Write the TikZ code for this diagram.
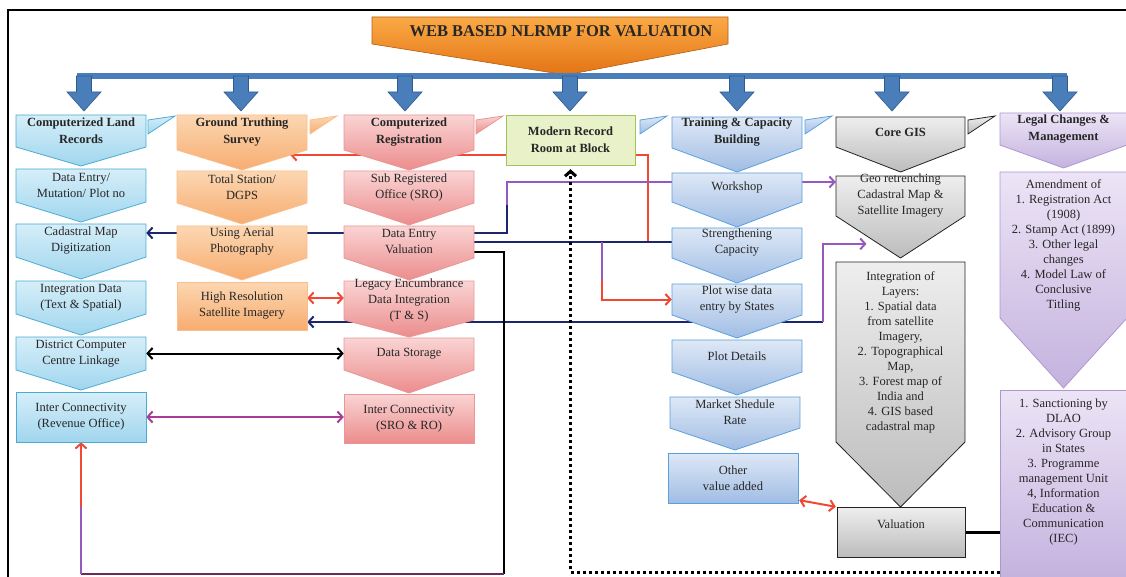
\documentclass[tikz,border=0pt]{standalone}
\usepackage{fontspec}
\setmainfont{Liberation Serif}
\usetikzlibrary{arrows.meta,calc}

\definecolor{landtop}{RGB}{214,238,249}
\definecolor{landbot}{RGB}{160,214,238}
\definecolor{landedge}{RGB}{75,172,210}
\definecolor{survtop}{RGB}{252,215,178}
\definecolor{survbot}{RGB}{247,172,112}
\definecolor{survedge}{RGB}{250,190,140}
\definecolor{regtop}{RGB}{250,212,212}
\definecolor{regbot}{RGB}{236,140,140}
\definecolor{regedge}{RGB}{232,150,150}
\definecolor{roomfill}{RGB}{232,241,200}
\definecolor{roomedge}{RGB}{160,195,90}
\definecolor{traintop}{RGB}{222,232,246}
\definecolor{trainbot}{RGB}{160,189,228}
\definecolor{trainedge}{RGB}{90,160,220}
\definecolor{gistop}{RGB}{238,238,238}
\definecolor{gisbot}{RGB}{188,188,188}
\definecolor{gisedge}{RGB}{35,35,35}
\definecolor{legaltop}{RGB}{236,228,246}
\definecolor{legalbot}{RGB}{196,178,222}
\definecolor{legaledge}{RGB}{175,150,210}
\definecolor{bararrow}{RGB}{74,126,187}
\definecolor{baredge}{RGB}{50,90,140}
\definecolor{titletop}{RGB}{250,170,70}
\definecolor{titlebot}{RGB}{228,115,20}
\definecolor{navyc}{RGB}{28,38,110}
\definecolor{purpc}{RGB}{150,90,190}
\definecolor{redc}{RGB}{240,72,50}
\definecolor{magc}{RGB}{170,60,150}
\definecolor{winec}{RGB}{110,40,90}

\pgfdeclarelayer{back}
\pgfsetlayers{back,main}

\tikzset{
  txt/.style={align=center,inner sep=0pt,text=black!85,font=\fontsize{12.5}{16}\selectfont},
  hd/.style={txt,font=\bfseries\fontsize{12.5}{17}\selectfont},
  lst/.style={txt,font=\fontsize{12.5}{15}\selectfont},
  landbox/.style={draw=landedge,top color=landtop,bottom color=landbot,line width=0.8pt},
  survbox/.style={draw=survedge,top color=survtop,bottom color=survbot,line width=0.8pt},
  regbox/.style={draw=regedge,top color=regtop,bottom color=regbot,line width=0.8pt},
  roombox/.style={draw=roomedge,fill=roomfill,line width=0.8pt},
  trainbox/.style={draw=trainedge,top color=traintop,bottom color=trainbot,line width=0.8pt},
  gisbox/.style={draw=gisedge,top color=gistop,bottom color=gisbot,line width=0.8pt},
  legalbox/.style={draw=legaledge,top color=legaltop,bottom color=legalbot,line width=0.8pt},
  downarrow/.style={fill=bararrow,draw=baredge,line width=0.6pt},
  link/.style={line width=2pt},
  dotline/.style={line width=3pt,dash pattern=on 3pt off 3pt}
}

% chevron: name, style, left, right, top, side end, tip, node style, text
\newcommand\chevbox[9]{%
  \path[#2] (#3,#5) -- (#4,#5) -- (#4,#6) -- ({(#3+#4)/2},#7) -- (#3,#6) -- cycle;
  \node[#8,minimum width={(#4-#3)*1pt},minimum height={(#6-#5)*1pt}] (#1) at ({(#3+#4)/2},{(#5+#6)/2}) {#9};}
% plain box: name, style, left, right, top, bottom, node style, text
\newcommand\rectbox[8]{%
  \path[#2] (#3,#5) rectangle (#4,#6);
  \node[#7,minimum width={(#4-#3)*1pt},minimum height={(#6-#5)*1pt}] (#1) at ({(#3+#4)/2},{(#5+#6)/2}) {#8};}
% small tab beside a heading
\newcommand\headtab[2]{\path[#2] (#1,120) -- ++(27,-4) -- (#1,134) -- cycle;}

\begin{document}
\begin{tikzpicture}[x=1pt,y=-1pt,>={Straight Barb[length=5pt,width=11pt]}]
\useasboundingbox (0,0) rectangle (1126,577);
\draw[line width=2pt] (8,577) -- (8,10) -- (1126,10);

% title and feed bar
\path[draw=titlebot!80!black,top color=titletop,bottom color=titlebot,line width=0.6pt]
  (372,17) -- (728,17) -- (728,44) -- (566,75) -- (372,44) -- cycle;
\node[font=\bfseries\fontsize{16.5}{18}\selectfont,text=black!85] (title) at (561,31) {WEB BASED NLRMP FOR VALUATION};
\fill[bararrow] (77,73) rectangle (1067,79);
\foreach \ax in {84,241,405,570,737,892,1060}
  \path[downarrow] ({\ax-7.5},76) -- ({\ax+7.5},76) -- ({\ax+7.5},92) -- ({\ax+17},92)
    -- (\ax,111) -- ({\ax-17},92) -- ({\ax-7.5},92) -- cycle;

% computerized land records
\chevbox{clr}{landbox}{16}{146}{115}{147}{166}{hd}{Computerized Land\\Records}
\headtab{148}{landbox}
\chevbox{c1a}{landbox}{16}{146}{169}{202}{222}{txt}{Data Entry/\\Mutation/ Plot no}
\chevbox{c1b}{landbox}{16}{146}{224}{257}{279}{txt}{Cadastral Map\\Digitization}
\chevbox{c1c}{landbox}{16}{146}{281}{314}{335}{txt}{Integration Data\\(Text \& Spatial)}
\chevbox{c1d}{landbox}{16}{146}{337}{370}{390}{txt}{District Computer\\Centre Linkage}
\rectbox{c1e}{landbox}{16}{146}{392}{442}{txt}{Inter Connectivity\\(Revenue Office)}

% ground truthing survey
\chevbox{gts}{survbox}{177}{307}{115}{150}{170}{hd}{Ground Truthing\\Survey}
\headtab{310}{survbox}
\chevbox{c2a}{survbox}{177}{307}{171}{203}{224}{txt}{Total Station/\\DGPS}
\chevbox{c2b}{survbox}{177}{307}{226}{258}{280}{txt}{Using Aerial\\Photography}
\rectbox{c2c}{survbox}{177}{307}{282}{330}{txt}{High Resolution\\Satellite Imagery}

% computerized registration
\chevbox{creg}{regbox}{344}{474}{115}{150}{170}{hd}{Computerized\\Registration}
\headtab{476}{regbox}
\chevbox{c3a}{regbox}{344}{474}{171}{203}{225}{txt}{Sub Registered\\Office (SRO)}
\chevbox{c3b}{regbox}{344}{474}{226}{258}{280}{txt}{Data Entry\\Valuation}
\chevbox{c3c}{regbox}{344}{474}{281}{320}{337}{txt}{Legacy Encumbrance\\Data Integration\\(T \& S)}
\chevbox{c3d}{regbox}{344}{474}{338}{370}{393}{txt}{Data Storage}
\rectbox{c3e}{regbox}{344}{474}{394}{443}{txt}{Inter Connectivity\\(SRO \& RO)}

% record room
\rectbox{mrr}{roombox}{506}{635}{115}{165}{hd}{Modern Record\\Room at Block}
\headtab{640}{trainbox}

% training and capacity building
\chevbox{tcb}{trainbox}{672}{802}{117}{148}{172}{hd}{Training \& Capacity\\Building}
\headtab{805}{trainbox}
\chevbox{c5a}{trainbox}{672}{802}{173}{202}{227}{txt}{Workshop}
\chevbox{c5b}{trainbox}{672}{802}{228}{258}{283}{txt}{Strengthening\\Capacity}
\chevbox{c5c}{trainbox}{672}{802}{284}{315}{338}{txt}{Plot wise data\\entry by States}
\chevbox{c5d}{trainbox}{672}{802}{340}{372}{395}{txt}{Plot Details}
\chevbox{c5e}{trainbox}{670}{800}{397}{428}{450}{txt}{Market Shedule\\Rate}
\rectbox{c5f}{trainbox}{668}{798}{453}{503}{txt}{Other\\value added}

% core GIS
\chevbox{cgis}{gisbox}{836}{965}{117}{147}{172}{hd}{Core GIS}
\headtab{968}{gisbox}
\chevbox{c6a}{gisbox}{836}{965}{176}{216}{258}{txt}{Geo retrenching\\Cadastral Map \&\\Satellite Imagery}
\chevbox{c6b}{gisbox}{836}{965}{262}{442}{507}{lst}{Integration of\\Layers:\\1. Spatial data\\from satellite\\Imagery,\\2. Topographical\\Map,\\3. Forest map of\\India and\\4. GIS based\\cadastral map}
\rectbox{val}{gisbox}{837}{965}{507}{557}{txt}{Valuation\\~}

% legal changes
\chevbox{lcm}{legalbox}{1000}{1127}{113}{145}{168}{hd}{Legal Changes \&\\Management}
\chevbox{c7a}{legalbox}{1000}{1127}{172}{318}{388}{lst}{Amendment of\\1. Registration Act\\(1908)\\2. Stamp Act (1899)\\3. Other legal\\changes\\4. Model Law of\\Conclusive\\Titling}
\rectbox{c7b}{legalbox}{1000}{1127}{390}{580}{lst,yshift=13pt}{1. Sanctioning by\\DLAO\\2. Advisory Group\\in States\\3. Programme\\management Unit\\4, Information\\Education \&\\Communication\\(IEC)}

\begin{pgfonlayer}{back}
  \draw[link,redc,->] ($(mrr.west)+(0,15)$) coordinate (r1) -- ($(r1 -| gts.east)+(-17,0)$);
  \draw[link,redc] ($(mrr.east)+(0,15)$) -| (648,242);
  \draw[link,navyc,->] ($(c3b.west)+(0,-9)$) coordinate (a1) -- (a1 -| c1b.east);
  \draw[link,navyc] ($(c3b.east)+(0,-9)$) -| (507,205);
  \draw[link,purpc,->] (507,205) |- ($(c6a.west)+(0,-14)$);
  \draw[link,navyc] (c3b.east) -- (c3b.east -| c5b.west);
  \draw[link,purpc] (602,242) -- (602,282);
  \draw[link,redc,->] (602,280) |- (c5c.west);
  \draw[link,navyc,<-] ($(c2c.east)+(0,16)$) coordinate (h1) -- (h1 -| 823,0);
  \draw[link,purpc,->] (823,322) |- ($(c6a.south)+(-34,26)$);
  \draw[link,black] ($(c3b.east)+(0,10)$) -| (504,574);
  \draw[link,winec] (504,574) -- (c1e.south |- 0,574);
  \draw[link,purpc] (c1e.south |- 0,574) -- (c1e.south |- 0,505);
  \draw[link,redc,->] (c1e.south |- 0,507) -- (c1e.south);
  \draw[link,redc,<->] ($(c2c.east)+(0,-8)$) coordinate (e1) -- (e1 -| c3c.west);
  \draw[link,black,<->] (c1d.east) -- (c1d.east -| c3d.west);
  \draw[link,magc,<->] (c1e.east) -- (c1e.east -| c3e.west);
  \draw[link,redc,<->] ($(c5f.south east)+(1,-3)$) -- ($(val.north west)+(-1,0)$);
  \draw[line width=3pt] (val.east) -- (val.east -| c7b.west);
  \draw[dotline,->] (c7b.west |- 0,572) -| ($(mrr.south)+(0,4)$);
\end{pgfonlayer}
\end{tikzpicture}
\end{document}
